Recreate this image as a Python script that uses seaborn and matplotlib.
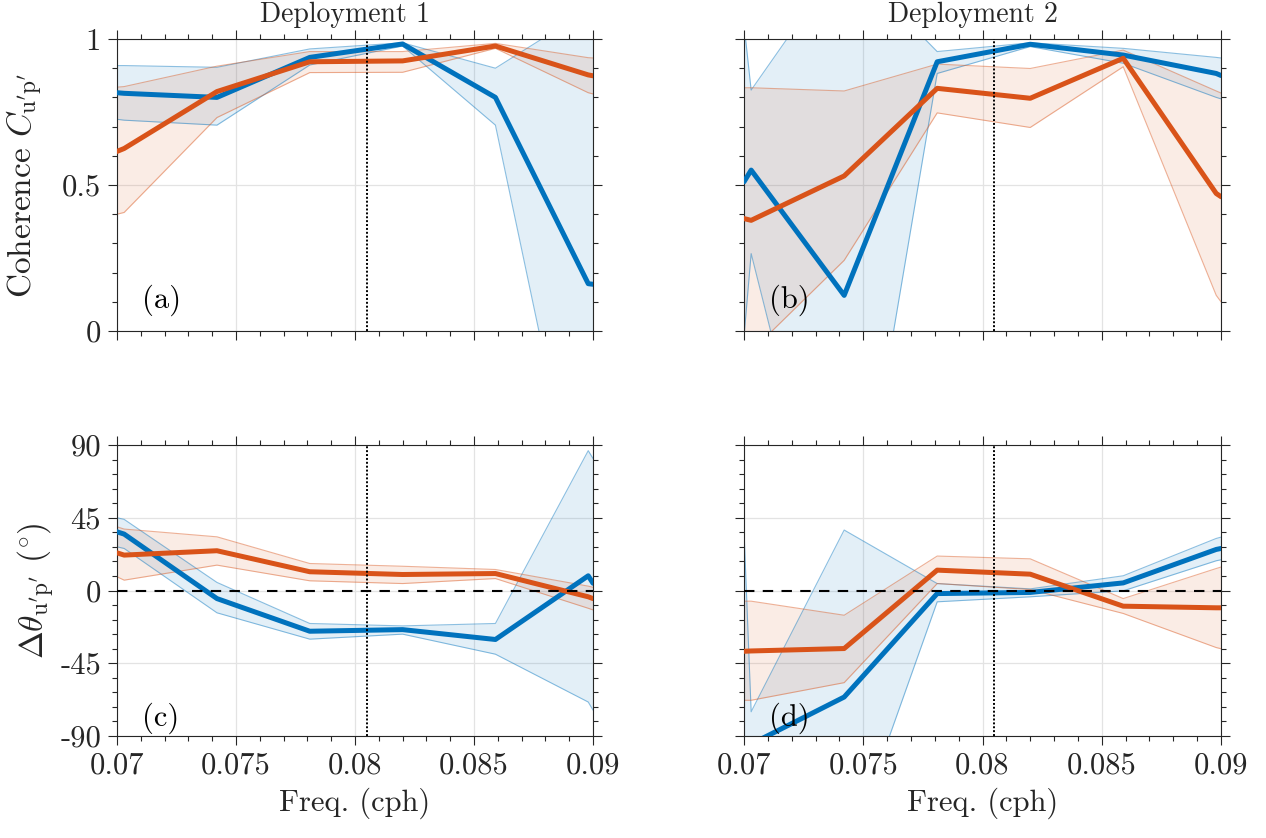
import numpy as np
import pandas as pd
import matplotlib
matplotlib.use("Agg")
import matplotlib.pyplot as plt
import seaborn as sns
from matplotlib.ticker import MultipleLocator

# ---------------- data ----------------
freq = [0.0700, 0.0703, 0.0742, 0.0781, 0.0820, 0.0859, 0.0898, 0.0900]
m2_freq = 0.0805

# (a) Deployment 1 coherence
coh1_blue    = [0.816, 0.814, 0.800, 0.937, 0.983, 0.800, 0.162, 0.160]
coh1_blue_hi = [0.909, 0.909, 0.903, 0.966, 0.987, 0.900, 1.100, 1.110]
coh1_blue_lo = [0.725, 0.722, 0.705, 0.911, 0.976, 0.705, -0.800, -0.850]
coh1_org     = [0.615, 0.625, 0.820, 0.922, 0.925, 0.976, 0.877, 0.874]
coh1_org_hi  = [0.835, 0.837, 0.907, 0.957, 0.957, 0.985, 0.936, 0.935]
coh1_org_lo  = [0.400, 0.406, 0.731, 0.885, 0.886, 0.968, 0.816, 0.812]

# (b) Deployment 2 coherence
coh2_blue    = [0.511, 0.551, 0.122, 0.922, 0.982, 0.945, 0.882, 0.875]
coh2_blue_hi = [1.050, 0.825, 1.280, 0.957, 0.987, 0.968, 0.937, 0.935]
coh2_blue_lo = [-0.020, 0.265, -1.000, 0.882, 0.974, 0.917, 0.800, 0.795]
coh2_org     = [0.385, 0.379, 0.531, 0.831, 0.797, 0.934, 0.471, 0.460]
coh2_org_hi  = [0.833, 0.833, 0.822, 0.914, 0.899, 0.962, 0.822, 0.815]
coh2_org_lo  = [-0.100, -0.070, 0.242, 0.747, 0.697, 0.905, 0.122, 0.100]

# (c) Deployment 1 phase (deg)
ph1_blue    = [36.3, 34.9, -5.0, -25.2, -24.2, -30.3, 9.1, 4.5]
ph1_blue_hi = [45.0, 44.0, 5.0, -20.4, -21.9, -20.4, 86.5, 81.7]
ph1_blue_lo = [27.0, 26.0, -13.8, -30.1, -27.0, -39.4, -69.0, -74.0]
ph1_org     = [23.3, 21.9, 24.6, 11.6, 9.9, 10.5, -3.9, -5.0]
ph1_org_hi  = [39.4, 38.0, 33.2, 16.7, 15.0, 13.0, 2.7, 2.0]
ph1_org_lo  = [8.5, 6.4, 15.7, 6.0, 4.3, 7.4, -11.0, -12.0]

# (d) Deployment 2 phase (deg)
ph2_blue    = [-96.0, -95.0, -65.9, -1.9, -1.2, 4.7, 25.4, 26.0]
ph2_blue_hi = [37.4, -75.0, 37.4, 4.3, 1.0, 9.1, 32.2, 33.0]
ph2_blue_lo = [-170.0, -170.0, -169.0, -7.0, -3.9, -0.2, 18.4, 19.0]
ph2_org     = [-37.6, -37.4, -35.9, 12.6, 10.1, -9.7, -10.7, -10.7]
ph2_org_hi  = [-6.6, -6.6, -15.3, 21.3, 19.6, -5.0, 13.6, 14.5]
ph2_org_lo  = [-67.9, -67.9, -57.0, 4.3, 0.6, -14.2, -35.3, -36.0]

xticks = [0.07, 0.075, 0.08, 0.085, 0.09]
xticklabels = ["0.07", "0.075", "0.08", "0.085", "0.09"]
coh_ticks = [0, 0.5, 1]
coh_ticklabels = ["0", "0.5", "1"]
ph_ticks = [-90, -45, 0, 45, 90]
ph_ticklabels = ["-90", "-45", "0", "45", "90"]
titles = ["Deployment 1", "Deployment 2"]
panel_labels = ["(a)", "(b)", "(c)", "(d)"]

# ---------------- style ----------------
sns.set_style("white")
plt.rcParams["font.family"] = ["cmr10", "DejaVu Serif"]
plt.rcParams["mathtext.fontset"] = "cm"
plt.rcParams["axes.unicode_minus"] = False
plt.rcParams["axes.formatter.use_mathtext"] = True

BLUE = "#0072BD"
ORANGE = "#D95319"
AXC = "#262626"
FS = 22

fig = plt.figure(figsize=(12.66, 8.38), dpi=100)
W, H = 1266, 838
def pos(l, t, r, b):
    return [l / W, 1 - b / H, (r - l) / W, (b - t) / H]

axes = [
    fig.add_axes(pos(117, 39, 593, 331)),
    fig.add_axes(pos(744, 39, 1221, 331)),
    fig.add_axes(pos(117, 445, 593, 736)),
    fig.add_axes(pos(744, 445, 1221, 736)),
]

panels = [
    (coh1_blue, coh1_blue_lo, coh1_blue_hi, coh1_org, coh1_org_lo, coh1_org_hi),
    (coh2_blue, coh2_blue_lo, coh2_blue_hi, coh2_org, coh2_org_lo, coh2_org_hi),
    (ph1_blue, ph1_blue_lo, ph1_blue_hi, ph1_org, ph1_org_lo, ph1_org_hi),
    (ph2_blue, ph2_blue_lo, ph2_blue_hi, ph2_org, ph2_org_lo, ph2_org_hi),
]

for i, (ax, p) in enumerate(zip(axes, panels)):
    b, blo, bhi, o, olo, ohi = p
    ax.set_facecolor("white")
    ax.grid(True, which="major", color="#e3e3e3", lw=0.9, zorder=0)
    ax.set_axisbelow(True)
    # confidence bands
    for lo, hi, c in [(blo, bhi, BLUE), (olo, ohi, ORANGE)]:
        ax.fill_between(freq, lo, hi, facecolor=c, alpha=0.11, linewidth=0, zorder=1)
        ax.plot(freq, lo, color=c, alpha=0.45, lw=0.8, zorder=1.5)
        ax.plot(freq, hi, color=c, alpha=0.45, lw=0.8, zorder=1.5)
    # main lines
    df = pd.DataFrame({"freq": freq, "blue": b, "orange": o})
    sns.lineplot(data=df, x="freq", y="blue", ax=ax, color=BLUE, lw=3.6,
                 sort=False, estimator=None, zorder=3)
    sns.lineplot(data=df, x="freq", y="orange", ax=ax, color=ORANGE, lw=3.6,
                 sort=False, estimator=None, zorder=3)
    ax.axvline(m2_freq, color="k", ls=(0, (1, 1.0)), lw=1.4, zorder=4)

    ax.set_xlim(0.07, 0.09)
    ax.set_xticks(xticks)
    ax.xaxis.set_minor_locator(MultipleLocator(0.001))
    if i < 2:
        ax.set_ylim(0, 1)
        ax.set_yticks(coh_ticks)
        ax.set_yticklabels(coh_ticklabels if i == 0 else [])
        ax.yaxis.set_minor_locator(MultipleLocator(0.1))
        ax.set_xticklabels([])
        ax.set_xlabel("")
        ax.set_title(titles[i], fontsize=20, pad=12, x=0.48)
    else:
        ax.set_ylim(-90, 90)
        ax.set_yticks(ph_ticks)
        ax.set_yticklabels(ph_ticklabels if i == 2 else [])
        ax.yaxis.set_minor_locator(MultipleLocator(9))
        ax.set_xticklabels(xticklabels)
        ax.axhline(0, color="k", ls=(0, (5, 4)), lw=1.5, zorder=4)
        ax.set_xlabel("Freq. (cph)", fontsize=FS, labelpad=6)
    if i == 0:
        ax.set_ylabel(r"Coherence $C_{\mathrm{u^{\prime}p^{\prime}}}$", fontsize=24, labelpad=12)
    elif i == 2:
        ax.set_ylabel(r"$\Delta\theta_{\mathrm{u^{\prime}p^{\prime}}}$ $(^{\circ})$", fontsize=24, labelpad=2)
    else:
        ax.set_ylabel("")
    ax.tick_params(which="both", direction="out", top=True, bottom=True,
                   left=True, right=True,
                   color=AXC, labelcolor=AXC, labelsize=FS, width=0.8)
    ax.tick_params(which="major", length=6.5, pad=5)
    ax.tick_params(which="minor", length=3.4)
    for s in ax.spines.values():
        s.set_color(AXC)
        s.set_linewidth(0.8)
        s.set_visible(True)
    ax.text(0.053, 0.105 if i < 2 else 0.06, panel_labels[i], transform=ax.transAxes,
            fontsize=FS, ha="left", va="center", color="k", zorder=5)

fig.savefig("out.png", dpi=100)
